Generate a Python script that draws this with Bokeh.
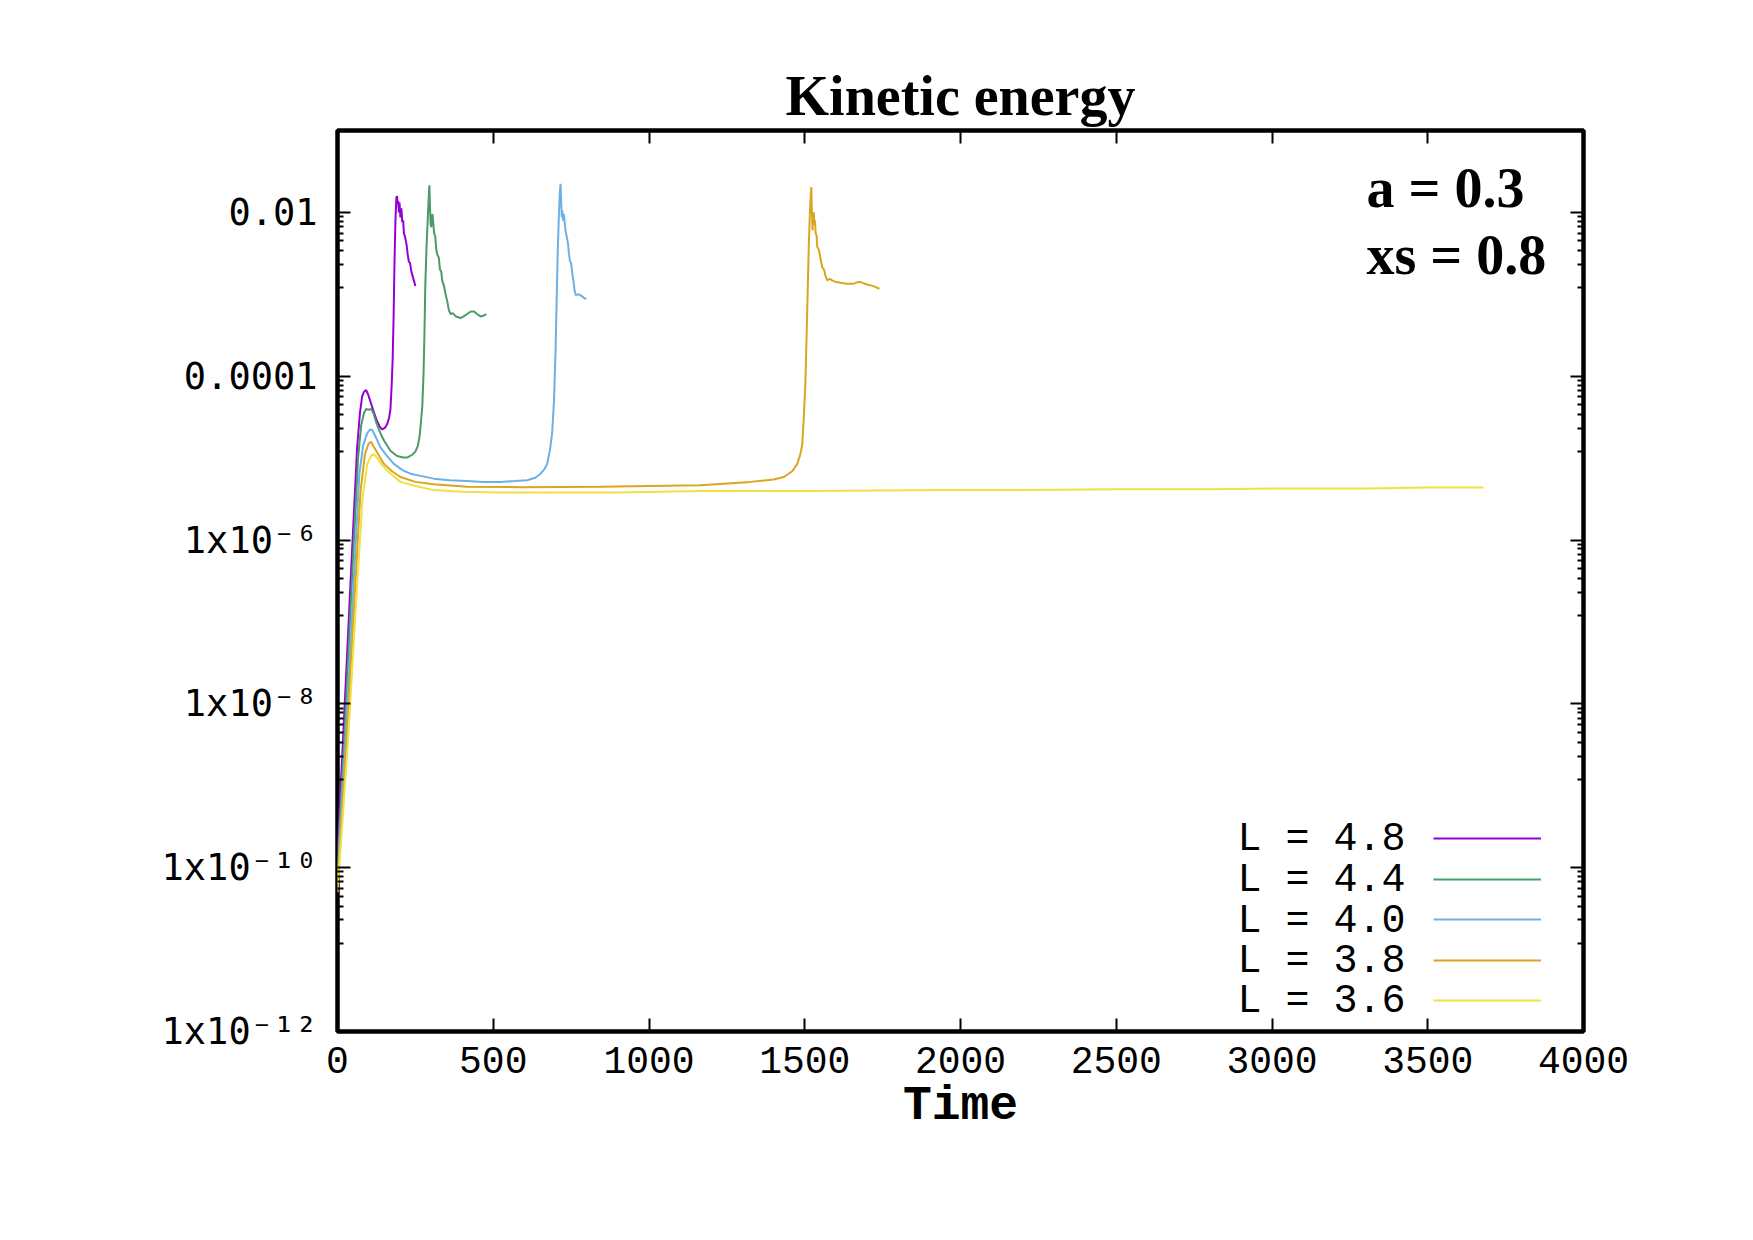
from bokeh.plotting import figure
from bokeh.models import Range1d, FixedTicker, LinearAxis, LogAxis, Legend, LegendItem, Label
from bokeh.embed import file_html
from bokeh.resources import INLINE

# ---------------- data ----------------
series_labels = ["L = 4.8", "L = 4.4", "L = 4.0", "L = 3.8", "L = 3.6"]
series_colors = ["#9400d3", "#4c9a6a", "#6cb0e6", "#daa520", "#f0e040"]

time_L48 = [0, 22, 42, 63, 72, 79, 85, 92, 98, 105, 115, 125, 135, 143, 152, 160, 166, 170, 174, 177,
            180, 183, 186, 189, 191, 193, 195, 197, 199, 202, 205, 208, 211, 213, 217, 222, 225, 229,
            233, 237, 240, 245, 250]
ke_L48 = [1.58e-10, 7.94e-9, 3.16e-7, 1.35e-5, 3.55e-5, 5.62e-5, 6.46e-5, 6.76e-5, 6.03e-5, 5.01e-5,
          3.80e-5, 2.95e-5, 2.45e-5, 2.24e-5, 2.34e-5, 2.63e-5, 3.16e-5, 3.98e-5, 7.94e-5, 1.58e-4,
          5.01e-4, 2.51e-3, 7.94e-3, 1.51e-2, 1.58e-2, 1.26e-2, 1.38e-2, 1.0e-2, 1.32e-2, 8.71e-3,
          1.12e-2, 7.59e-3, 7.94e-3, 5.62e-3, 5.01e-3, 3.98e-3, 3.16e-3, 2.51e-3, 2.40e-3, 1.91e-3,
          1.74e-3, 1.48e-3, 1.26e-3]

time_L44 = [0, 25, 45, 66, 76, 85, 92, 100, 108, 115, 125, 138, 150, 170, 190, 210, 225, 240, 250, 258,
            264, 268, 272, 276, 279, 282, 286, 290, 293, 295, 297, 299, 301, 303, 305, 307, 310, 314,
            317, 320, 325, 329, 333, 336, 342, 347, 352, 358, 363, 370, 380, 395, 405, 416, 428, 438,
            448, 459, 470, 478]
ke_L44 = [1.0e-10, 6.31e-9, 2.51e-7, 1.0e-5, 2.51e-5, 3.55e-5, 3.98e-5, 3.89e-5, 3.98e-5, 3.55e-5,
          2.69e-5, 2.0e-5, 1.62e-5, 1.23e-5, 1.07e-5, 1.02e-5, 1.02e-5, 1.10e-5, 1.20e-5, 1.41e-5,
          1.91e-5, 2.82e-5, 4.17e-5, 1.0e-4, 3.16e-4, 1.35e-3, 3.98e-3, 8.71e-3, 1.58e-2, 2.14e-2,
          1.12e-2, 7.08e-3, 6.61e-3, 8.91e-3, 9.55e-3, 7.94e-3, 5.62e-3, 5.01e-3, 3.55e-3, 3.09e-3,
          2.82e-3, 2.0e-3, 1.91e-3, 1.48e-3, 1.26e-3, 1.0e-3, 8.32e-4, 6.31e-4, 5.75e-4, 5.89e-4,
          5.37e-4, 5.13e-4, 5.37e-4, 5.75e-4, 6.17e-4, 6.17e-4, 5.75e-4, 5.37e-4, 5.50e-4, 5.75e-4]

time_L40 = [0, 28, 48, 70, 82, 95, 104, 112, 125, 138, 160, 181, 210, 234, 270, 309, 360, 416, 470, 523,
            570, 609, 635, 652, 665, 673, 682, 689, 695, 700, 704, 707, 711, 714, 716, 718, 720, 722,
            724, 727, 730, 732, 736, 740, 743, 746, 750, 754, 758, 761, 765, 772, 780, 790, 799]
ke_L40 = [7.94e-11, 5.01e-9, 1.58e-7, 6.31e-6, 1.41e-5, 2.0e-5, 2.24e-5, 2.19e-5, 1.74e-5, 1.35e-5,
          1.05e-5, 8.51e-6, 7.08e-6, 6.46e-6, 6.03e-6, 5.62e-6, 5.37e-6, 5.25e-6, 5.13e-6, 5.13e-6,
          5.25e-6, 5.37e-6, 5.75e-6, 6.46e-6, 7.41e-6, 8.51e-6, 1.26e-5, 2.0e-5, 5.01e-5, 2.04e-4,
          1.0e-3, 3.39e-3, 1.0e-2, 1.78e-2, 2.24e-2, 1.41e-2, 8.71e-3, 1.05e-2, 7.94e-3, 9.55e-3,
          7.08e-3, 6.03e-3, 5.01e-3, 4.17e-3, 3.16e-3, 2.57e-3, 2.40e-3, 1.78e-3, 1.41e-3, 1.12e-3,
          9.77e-4, 1.0e-3, 9.77e-4, 9.12e-4, 8.71e-4]

time_L38 = [0, 30, 52, 74, 88, 100, 108, 118, 130, 149, 175, 202, 250, 309, 416, 600, 844, 1000, 1165,
            1326, 1400, 1433, 1460, 1476, 1486, 1492, 1497, 1502, 1506, 1510, 1513, 1516, 1519, 1521,
            1523, 1525, 1527, 1529, 1531, 1533, 1535, 1538, 1540, 1545, 1550, 1556, 1562, 1567, 1572,
            1580, 1588, 1600, 1615, 1635, 1658, 1670, 1679, 1700, 1720, 1740]
ke_L38 = [6.31e-11, 3.98e-9, 1.26e-7, 3.98e-6, 1.12e-5, 1.51e-5, 1.58e-5, 1.35e-5, 1.12e-5, 8.51e-6,
          6.92e-6, 5.89e-6, 5.13e-6, 4.79e-6, 4.47e-6, 4.42e-6, 4.47e-6, 4.57e-6, 4.68e-6, 5.13e-6,
          5.50e-6, 5.89e-6, 6.92e-6, 8.51e-6, 1.12e-5, 1.48e-5, 3.16e-5, 8.13e-5, 3.16e-4, 1.35e-3,
          3.98e-3, 8.71e-3, 1.58e-2, 2.04e-2, 1.0e-2, 6.03e-3, 8.91e-3, 1.0e-2, 7.08e-3, 7.94e-3,
          5.50e-3, 5.25e-3, 3.80e-3, 3.55e-3, 2.82e-3, 2.14e-3, 2.0e-3, 1.66e-3, 1.48e-3, 1.55e-3,
          1.48e-3, 1.41e-3, 1.38e-3, 1.35e-3, 1.35e-3, 1.41e-3, 1.41e-3, 1.32e-3, 1.26e-3, 1.17e-3]

time_L36 = [0, 33, 56, 80, 95, 108, 117, 128, 140, 159, 180, 202, 250, 309, 400, 523, 700, 900, 1165,
            1500, 1968, 2200, 2500, 2800, 3000, 3300, 3500, 3679]
ke_L36 = [5.01e-11, 3.16e-9, 1.0e-7, 3.16e-6, 8.32e-6, 1.07e-5, 1.12e-5, 1.0e-5, 8.51e-6, 7.08e-6,
          6.03e-6, 5.13e-6, 4.57e-6, 4.07e-6, 3.89e-6, 3.80e-6, 3.80e-6, 3.80e-6, 3.98e-6, 3.98e-6,
          4.07e-6, 4.07e-6, 4.17e-6, 4.17e-6, 4.27e-6, 4.27e-6, 4.37e-6, 4.37e-6]

x_tick_values = [0, 500, 1000, 1500, 2000, 2500, 3000, 3500, 4000]
y_tick_values = [1e-12, 1e-10, 1e-8, 1e-6, 1e-4, 1e-2]
y_tick_labels = ["1x10\u207b\u00b9\u00b2", "1x10\u207b\u00b9\u2070", "1x10\u207b\u2078",
                 "1x10\u207b\u2076", "0.0001", "0.01"]

title_text = "Kinetic energy"
x_label = "Time"
param_lines = ["a = 0.3", "xs = 0.8"]

# ---------------- figure ----------------
MONO = "Liberation Mono"
MONO_SUP = "DejaVu Sans Mono"
SERIF = "Liberation Serif"

W, H = 1745, 1232
p = figure(width=W, height=H, output_backend="svg", toolbar_location=None,
           y_axis_type="log",
           x_range=Range1d(0, 4000), y_range=Range1d(1e-12, 1e-1),
           min_border_left=337, min_border_right=W - 1583,
           min_border_top=130, min_border_bottom=H - 1031)

p.background_fill_color = "white"
p.border_fill_color = "white"
p.outline_line_color = "black"
p.outline_line_width = 4.5
p.xgrid.grid_line_color = None
p.ygrid.grid_line_color = None

# minor ticks as gnuplot draws them: 8 linear subdivisions between majors
y_minor = []
for lo, hi in zip(y_tick_values[:-1], y_tick_values[1:]):
    y_minor += [lo + j * (hi - lo) / 9 for j in range(1, 9)]

yticker = FixedTicker(ticks=y_tick_values, minor_ticks=y_minor)
xticker = FixedTicker(ticks=x_tick_values)

xb = p.below[0]
yl = p.left[0]
xb.ticker = xticker
yl.ticker = yticker
yl.major_label_overrides = {v: s for v, s in zip(y_tick_values, y_tick_labels)}

xt = LinearAxis(ticker=xticker, major_label_overrides={v: "" for v in x_tick_values})
yr = LogAxis(ticker=yticker, major_label_overrides={v: "" for v in y_tick_values})
p.add_layout(xt, "above")
p.add_layout(yr, "right")

for ax in (xb, yl, xt, yr):
    ax.axis_line_color = None
    ax.major_tick_in = 13
    ax.major_tick_out = 0
    ax.minor_tick_in = 6
    ax.minor_tick_out = 0
    ax.major_tick_line_width = 2
    ax.minor_tick_line_width = 2
    ax.major_tick_line_color = "black"
    ax.minor_tick_line_color = "black"
    ax.major_label_text_font = MONO
    ax.major_label_text_font_size = "38px"
    ax.major_label_text_color = "black"
for ax in (xt, yr):
    ax.major_label_standoff = 0
for ax in (xb, xt):
    ax.minor_tick_line_color = None

yl.major_label_text_font = MONO_SUP
yl.major_label_text_font_size = "37px"
yl.major_label_standoff = 20

xb.major_label_standoff = 15
xb.axis_label = x_label
xb.axis_label_text_font = MONO
xb.axis_label_text_font_size = "48px"
xb.axis_label_text_font_style = "bold"
xb.axis_label_text_color = "black"
xb.axis_label_standoff = 3

p.title.text = title_text
p.title.align = "center"
p.title.text_font = SERIF
p.title.text_font_size = "56px"
p.title.text_font_style = "bold"
p.title.text_color = "black"
p.title.standoff = 7

# gnuplot-style key: text on the left, line sample on the right
series = [(time_L48, ke_L48), (time_L44, ke_L44), (time_L40, ke_L40),
          (time_L38, ke_L38), (time_L36, ke_L36)]
legend_bottoms = [173, 132, 92, 51, 11]    # screen px above the frame bottom, one row per entry
legend_centers = [192, 151, 110, 70, 30]
for (t, e), lab, col, yb, yc in zip(series, series_labels, series_colors, legend_bottoms, legend_centers):
    r = p.line(t, e, line_color=col, line_width=2)
    lg = Legend(items=[LegendItem(label=" ", renderers=[r])], location=(1096, yb),
                orientation="vertical",
                glyph_width=108, glyph_height=40, label_height=40, label_standoff=0,
                label_text_font=MONO, label_text_font_size="38px", label_text_color="black",
                spacing=0, padding=0, margin=0,
                border_line_color=None, background_fill_alpha=0)
    p.add_layout(lg)
    p.add_layout(Label(x=1068, y=yc, x_units="screen", y_units="screen", text=lab,
                       text_font=MONO, text_font_size="40px", text_color="black",
                       text_align="right", text_baseline="middle"))

for txt, yy in zip(param_lines, [844, 777]):
    p.add_layout(Label(x=1029, y=yy, x_units="screen", y_units="screen", text=txt,
                       text_font=SERIF, text_font_style="bold", text_font_size="56px",
                       text_color="black", text_baseline="alphabetic", text_align="left"))

open("out.html", "w").write(file_html(p, INLINE))
